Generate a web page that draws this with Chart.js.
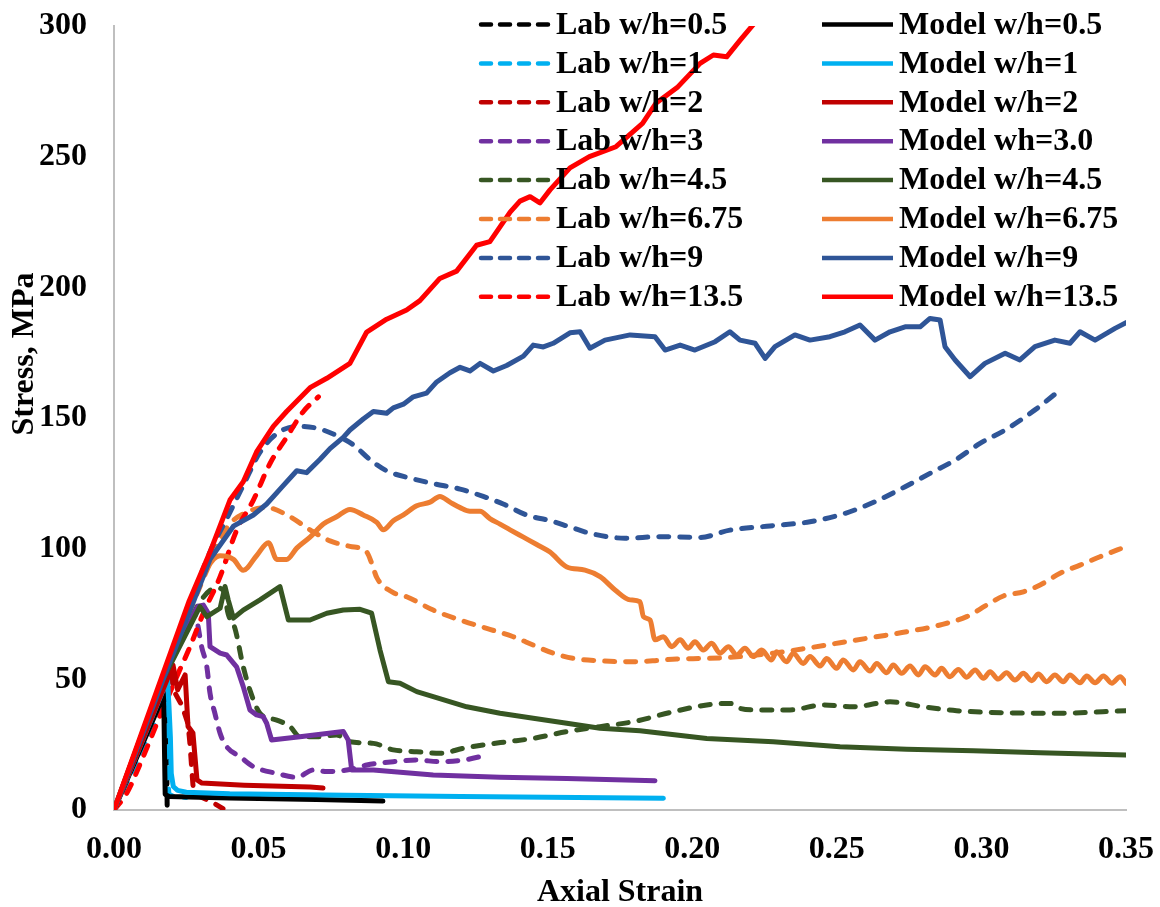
<!DOCTYPE html>
<html>
<head>
<meta charset="utf-8">
<script src="https://cdn.jsdelivr.net/npm/chart.js@4.4.0/dist/chart.umd.min.js"></script>
<style>html,body{margin:0;padding:0;background:#fff}canvas{display:block}</style>
</head>
<body>
<canvas id="chart" width="1160" height="907"></canvas>
<script>
// [strain, stress MPa]
const lab05=[[0,0],[0.0175,45],[0.0183,30],[0.0183,10],[0.0184,0.5]];
const lab1=[[0,0],[0.0178,42],[0.0182,30],[0.0186,12],[0.019,6],[0.021,5],[0.025,4.8]];
const lab2=[[0,0],[0.0195,52],[0.021,45],[0.0235,40],[0.0256,33],[0.0263,25],[0.027,14],[0.0275,7],[0.030,5],[0.034,3],[0.0377,0.5]];
const lab3=[[0,0],[0.016,46],[0.027,76],[0.0286,72.7],[0.0303,62.5],[0.0321,54.8],[0.0332,44.7],[0.0349,37],[0.0367,29.3],[0.039,24.2],[0.0436,20.4],[0.0482,16.6],[0.0563,14],[0.0632,12.5],[0.0689,15.3],[0.0736,14.7],[0.0805,15.3],[0.0874,17.2],[0.0966,18.5],[0.1047,19.1],[0.1127,18.5],[0.1208,19.1],[0.1289,21]];
const lab45=[[0,0],[0.017,49],[0.03,80],[0.0355,85],[0.0378,84],[0.0395,75],[0.0418,69.6],[0.0447,54.8],[0.047,45.9],[0.0505,37],[0.0563,34.4],[0.0609,31.9],[0.0643,28],[0.0701,28],[0.077,28.7],[0.0816,26.1],[0.0897,25.5],[0.0966,23],[0.1047,22.3],[0.1127,21.7],[0.1208,23.6],[0.1277,24.9],[0.1358,26.1],[0.145,27.4],[0.1566,30],[0.1681,31.9],[0.1796,33.8],[0.1934,37.6],[0.205,40.2],[0.213,40.8],[0.2165,38.9],[0.2223,38.3],[0.2338,38.3],[0.2453,40.2],[0.2557,39.5],[0.2684,41.4],[0.2799,39.5],[0.2914,38],[0.3087,37.2],[0.326,37],[0.35,38]];
const lab675=[[0,0],[0.017,50],[0.0332,94.5],[0.039,108],[0.046,114],[0.0528,115.7],[0.0609,112.2],[0.0678,107.2],[0.0747,103],[0.0816,100.9],[0.0874,98.7],[0.0891,94.5],[0.0909,88.9],[0.0966,83.2],[0.1012,81.6],[0.1104,76.5],[0.1197,72.7],[0.1289,69.5],[0.1381,66.3],[0.145,63.1],[0.1519,60],[0.1589,58],[0.1681,57.1],[0.1773,56.7],[0.1865,57.1],[0.1946,57.8],[0.205,58],[0.2165,58.7],[0.228,60],[0.2396,61.9],[0.2511,64],[0.2626,66.1],[0.2742,68.2],[0.2857,70.8],[0.2949,74],[0.3018,78.4],[0.3076,81.9],[0.3145,83.5],[0.3203,86.1],[0.3272,90.6],[0.3341,93.7],[0.341,96.9],[0.35,100.8]];
const lab9=[[0,0],[0.017,50],[0.0332,98.7],[0.039,111.5],[0.0447,124.2],[0.0505,136.9],[0.0563,144],[0.0632,146.8],[0.0701,146.1],[0.077,143.3],[0.0828,139.7],[0.0885,134.1],[0.0943,129.8],[0.1024,127],[0.1104,124.9],[0.1197,122.8],[0.1277,120],[0.1346,117.1],[0.1427,112.9],[0.1508,110.7],[0.1577,108.3],[0.1646,105.9],[0.1767,104],[0.1888,104.6],[0.2027,104.3],[0.213,107.1],[0.2269,108.7],[0.2407,110.3],[0.2528,113.5],[0.2632,118],[0.2736,123.7],[0.2822,128.8],[0.2909,133.9],[0.2995,140.3],[0.3082,145.4],[0.3185,153.1],[0.3272,160.7]];
const lab135=[[0,0],[0.0044,6.4],[0.0101,20.4],[0.0153,34.4],[0.0217,51],[0.0263,62.5],[0.0309,75.3],[0.0367,89.3],[0.0424,107],[0.0482,118.6],[0.054,132.7],[0.0597,142.6],[0.0655,152.5],[0.0707,158.1]];

const model05=[[0,0],[0.0172,44],[0.0175,20],[0.0177,6],[0.019,5.2],[0.04,4.6],[0.07,4],[0.093,3.4]];
const model1=[[0,0],[0.0185,50],[0.019,40],[0.0195,28],[0.0198,14],[0.0205,9],[0.022,7.5],[0.025,6.8],[0.04,6.2],[0.08,5.6],[0.12,5.2],[0.16,4.8],[0.19,4.5]];
const model2=[[0,0],[0.0204,55.5],[0.022,46],[0.0246,51.7],[0.0256,32],[0.0273,29.5],[0.0287,11.5],[0.0304,10.3],[0.045,9.5],[0.0678,8.8],[0.0723,8.4]];
const model3=[[0,0],[0.016,48],[0.029,78],[0.0309,78.4],[0.0326,75.3],[0.0332,62.5],[0.0367,60],[0.039,59.3],[0.0424,54.8],[0.0447,47.2],[0.047,38.3],[0.0493,36.4],[0.0516,35.7],[0.0528,33.2],[0.0545,26.8],[0.0643,28],[0.0793,30],[0.081,26.8],[0.0822,15.3],[0.0897,15.3],[0.1104,13.4],[0.1335,12.5],[0.1566,12.1],[0.1871,11.2]];
const model45=[[0,0],[0.016,48],[0.0297,77.8],[0.0321,74],[0.0367,77.2],[0.0384,85.5],[0.0395,80.4],[0.0413,73.4],[0.0447,76.5],[0.0505,80.4],[0.0574,85.5],[0.0603,72.7],[0.0678,72.7],[0.0736,75.3],[0.0793,76.5],[0.0851,76.8],[0.0891,75.3],[0.092,61.2],[0.0949,49.1],[0.0989,48.5],[0.1047,45.3],[0.1104,43.4],[0.122,39.5],[0.1335,37],[0.145,35.1],[0.1566,33.2],[0.1681,31.3],[0.1819,30.3],[0.205,27.4],[0.228,26.1],[0.2511,24.2],[0.2742,23.2],[0.2972,22.7],[0.3203,21.9],[0.35,21]];
const model675=[[0,0],[0.016,48],[0.03,88],[0.0345,96],[0.0367,97.3],[0.0413,95.9],[0.0447,91.7],[0.0493,97.3],[0.0534,102.3],[0.0563,95.9],[0.0597,95.9],[0.0632,100.2],[0.0678,104.4],[0.0724,109.4],[0.077,112.2],[0.0816,115],[0.0862,112.9],[0.0909,110.1],[0.0931,107.2],[0.0966,110.7],[0.1001,112.9],[0.1047,116.4],[0.1093,117.8],[0.1127,120],[0.1162,117.8],[0.1197,115.7],[0.1231,114.3],[0.1266,114.3],[0.13,111.5],[0.1335,109.4],[0.137,107.2],[0.1416,104.4],[0.1462,101.6],[0.1508,98.7],[0.1566,93],[0.1629,91.8],[0.1681,89.3],[0.1733,84.2],[0.1785,80.4],[0.1819,79.7],[0.1831,74],[0.1854,72.7],[0.1871,65.1],
  [0.19,66.3],[0.1929,62.5],[0.1958,65.1],[0.1986,61.9],[0.2009,64.4],[0.2038,61.2],[0.2067,63.8],[0.2096,60],[0.2125,62.5],[0.2154,59.3],[0.2182,61.9],[0.2211,58.7],[0.224,61.2],[0.2274,57.4],[0.2292,60.6],[0.2326,56.7],[0.2349,60],[0.2384,56.1],[0.2407,58.7],[0.2442,55.1],[0.2465,58],[0.2499,54.2],[0.2522,57.4],[0.2557,53.6],[0.258,56.7],[0.2615,53.2],[0.2638,56.1],[0.2672,52.5],[0.2695,55.5],[0.2724,52.3],[0.2753,55.1],[0.2782,51.7],[0.2805,54.8],[0.284,51.7],[0.2862,54.2],[0.2891,51],[0.292,53.8],[0.2949,50.8],[0.2978,53.6],[0.3007,50.4],[0.303,52.9],[0.3058,50.1],[0.3087,52.5],[0.3116,49.7],[0.3145,52.3],[0.3174,49.5],[0.3197,52],[0.3226,49.1],[0.3254,51.7],[0.3283,49.1],[0.3306,51.7],[0.3341,48.7],[0.3364,51.3],[0.3393,48.7],[0.3422,51.3],[0.3451,48.5],[0.348,51],[0.35,48.5]];
const model9=[[0,0],[0.017,50],[0.0332,95.9],[0.0413,108.6],[0.0482,112.9],[0.0528,117.1],[0.0586,124.2],[0.0632,129.8],[0.0666,129.1],[0.0712,134.1],[0.0747,138.3],[0.0793,142.6],[0.0816,145.4],[0.0862,149.6],[0.0897,152.5],[0.0943,151.8],[0.0966,153.9],[0.1001,155.3],[0.1035,158.1],[0.1081,159.5],[0.1116,163.8],[0.1162,167.3],[0.1197,169.4],[0.1231,168],[0.1266,170.9],[0.1312,168],[0.1358,170.1],[0.1416,173.7],[0.145,177.9],[0.1485,177.2],[0.1519,178.6],[0.1577,182.6],[0.1612,183],[0.1646,176.7],[0.1698,179.8],[0.1785,181.8],[0.1871,181.1],[0.1906,176],[0.1958,177.9],[0.2009,176],[0.2079,179.2],[0.213,183],[0.2165,179.8],[0.2217,178.6],[0.2252,172.8],[0.2286,177.3],[0.2355,181.8],[0.2407,179.8],[0.2476,181.1],[0.2528,183],[0.258,185.6],[0.2632,179.8],[0.2684,183],[0.2736,184.9],[0.2788,184.9],[0.2822,188.1],[0.2857,187.5],[0.2874,177.3],[0.2909,172.2],[0.2961,165.8],[0.3012,170.9],[0.3082,174.8],[0.3133,172.2],[0.3185,177.3],[0.3254,179.8],[0.3306,178.6],[0.3341,183],[0.3393,179.8],[0.3462,184.3],[0.35,186.5]];
const model135=[[0,0],[0.013,40],[0.026,80],[0.0332,98.7],[0.0401,118.6],[0.0447,125.6],[0.0493,137],[0.0551,146.8],[0.0597,152.5],[0.0678,161.6],[0.0736,165.2],[0.0816,170.9],[0.0874,182.9],[0.0943,187.8],[0.1012,191.3],[0.1058,194.9],[0.1127,203.4],[0.1185,206.2],[0.1254,216.1],[0.13,217.5],[0.137,228.8],[0.1404,233],[0.1439,234.7],[0.1473,232.3],[0.1508,237.3],[0.1577,245.7],[0.1644,250],[0.1736,253.8],[0.1828,262.7],[0.1874,270.4],[0.195,276.7],[0.2027,285.7],[0.2073,288.9],[0.2119,288.2],[0.2165,294.5],[0.221,300.4]];

const labSeries=[lab05,lab1,lab2,lab3,lab45,lab675,lab9,lab135];
const modelSeries=[model05,model1,model2,model3,model45,model675,model9,model135];
const labNames=["Lab w/h=0.5","Lab w/h=1","Lab w/h=2","Lab w/h=3","Lab w/h=4.5","Lab w/h=6.75","Lab w/h=9","Lab w/h=13.5"];
const modelNames=["Model w/h=0.5","Model w/h=1","Model w/h=2","Model wh=3.0","Model w/h=4.5","Model w/h=6.75","Model w/h=9","Model w/h=13.5"];
const colors=["#000000","#00B0F0","#C00000","#7030A0","#375623","#ED7D31","#2F5597","#FF0000"];
const smoothLab=[false,false,false,true,true,true,true,true];
const xTicks=[0,0.05,0.1,0.15,0.2,0.25,0.3,0.35];
const xTitle="Axial Strain";
const yTitle="Stress, MPa";

const FONT="bold 32px 'Liberation Serif', 'Times New Roman', serif";
const tickFont={family:"'Liberation Serif', 'Times New Roman', serif",size:32,weight:"bold"};

function toPts(arr){return arr.map(p=>({x:p[0],y:p[1]}));}

const datasets=[];
labSeries.forEach((s,i)=>{
  datasets.push({label:labNames[i],data:toPts(s),borderColor:colors[i],borderWidth:5,
    borderDash:[10,11],borderCapStyle:"round",borderJoinStyle:"round",
    cubicInterpolationMode:smoothLab[i]?"monotone":"default",order:-i});
});
modelSeries.forEach((s,i)=>{
  datasets.push({label:modelNames[i],data:toPts(s),borderColor:colors[i],borderWidth:5,
    borderJoinStyle:"round",borderCapStyle:"round",
    cubicInterpolationMode:i===5?"monotone":"default",order:-(i+8)});
});

const annotations={
  id:"annotations",
  afterDraw(chart){
    const ctx=chart.ctx, a=chart.chartArea;
    ctx.save();
    ctx.fillStyle="#000";
    ctx.font=FONT;
    ctx.textAlign="center";
    ctx.textBaseline="middle";
    ctx.fillText(xTitle,(a.left+a.right)/2,893);
    ctx.save();
    ctx.translate(25,354);
    ctx.rotate(-Math.PI/2);
    ctx.fillText(yTitle,0,0);
    ctx.restore();
    // legend: lab column left, model column right
    chart.data.datasets.forEach((ds,i)=>{
      const col=i<8?0:1, row=i%8;
      const y=24.5+row*38.9;
      const x0=col?822:479, x1=x0+71;
      ctx.beginPath();
      ctx.strokeStyle=ds.borderColor;
      ctx.lineWidth=4.5;
      ctx.lineCap=col?"butt":"round";
      ctx.setLineDash(col?[]:[10,9]);
      ctx.moveTo(x0+(col?0:2),y);ctx.lineTo(x1,y);
      ctx.stroke();
      ctx.setLineDash([]);
      ctx.textAlign="left";
      ctx.fillText(ds.label,x1+6,y+1);
    });
    ctx.restore();
  }
};

new Chart(document.getElementById("chart"),{
  type:"scatter",
  data:{datasets},
  options:{
    responsive:false,
    animation:false,
    devicePixelRatio:1,
    showLine:true,
    elements:{point:{radius:0,hoverRadius:0},line:{tension:0,borderWidth:5}},
    layout:{padding:{top:26,right:34,left:0,bottom:0}},
    plugins:{legend:{display:false},tooltip:{enabled:false}},
    scales:{
      x:{type:"linear",min:0,max:0.35,
        afterBuildTicks(s){s.ticks=xTicks.map(v=>({value:v}));},
        ticks:{callback:v=>v.toFixed(2),font:tickFont,color:"#000",padding:21,maxRotation:0,autoSkip:false},
        grid:{display:false,drawTicks:false},
        border:{color:"#BFBFBF",width:2},
        afterFit(s){s.height=97;s.paddingLeft=0;s.paddingRight=0;}},
      y:{type:"linear",min:0,max:300,
        ticks:{stepSize:50,font:tickFont,color:"#000",padding:27},
        grid:{display:false,drawTicks:false},
        border:{color:"#BFBFBF",width:2},
        afterFit(s){s.width=114;s.paddingTop=0;s.paddingBottom=0;}}
    }
  },
  plugins:[annotations]
});
</script>
</body>
</html>
